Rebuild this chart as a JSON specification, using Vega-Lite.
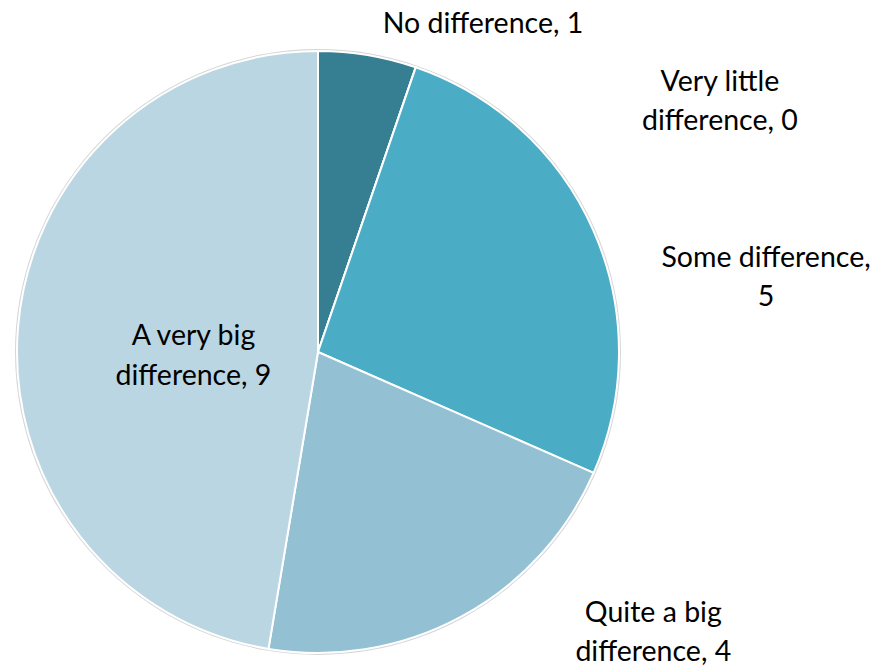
{
  "$schema": "https://vega.github.io/schema/vega-lite/v6.json",
  "width": 636,
  "height": 630,
  "autosize": {"type": "none"},
  "padding": {"left": 0, "top": 37, "right": 246, "bottom": 0},
  "background": "white",
  "data": {
    "values": [
      {"category": "No difference", "value": 1, "order": 1, "label": "No difference, 1"},
      {"category": "Very little difference", "value": 0, "order": 2, "label": "Very little\ndifference, 0"},
      {"category": "Some difference", "value": 5, "order": 3, "label": "Some difference,\n5"},
      {"category": "Quite a big difference", "value": 4, "order": 4, "label": "Quite a big\ndifference, 4"},
      {"category": "A very big difference", "value": 9, "order": 5, "label": "A very big\ndifference, 9"}
    ]
  },
  "encoding": {
    "theta": {"field": "value", "type": "quantitative", "stack": true},
    "order": {"field": "order", "type": "quantitative"}
  },
  "layer": [
    {"mark": {"type": "arc", "outerRadius": 303, "color": "#d6d6d6"}},
    {
      "mark": {"type": "arc", "outerRadius": 301, "stroke": "white", "strokeWidth": 2},
      "encoding": {
        "color": {
          "field": "category", "type": "nominal", "legend": null,
          "scale": {
            "domain": ["No difference", "Very little difference", "Some difference", "Quite a big difference", "A very big difference"],
            "range": ["#367F93", "#2F6F80", "#4BACC6", "#93C1D3", "#BAD6E2"]
          }
        }
      }
    },
    {
      "mark": {"type": "text", "radius": 320, "dx": 12, "dy": -3, "align": "left", "baseline": "alphabetic", "font": "Lato", "fontSize": 28.5, "color": "black", "lineBreak": "\n", "lineHeight": 39},
      "encoding": {"text": {"condition": {"test": "datum.category === 'No difference'", "field": "label"}, "value": ""}}
    },
    {
      "mark": {"type": "text", "radius": 320, "dx": 298, "dy": 42, "align": "center", "baseline": "alphabetic", "font": "Lato", "fontSize": 28.5, "color": "black", "lineBreak": "\n", "lineHeight": 39},
      "encoding": {"text": {"condition": {"test": "datum.category === 'Very little difference'", "field": "label"}, "value": ""}}
    },
    {
      "mark": {"type": "text", "radius": 320, "dx": 155, "dy": 44, "align": "center", "baseline": "alphabetic", "font": "Lato", "fontSize": 28.5, "color": "black", "lineBreak": "\n", "lineHeight": 39},
      "encoding": {"text": {"condition": {"test": "datum.category === 'Some difference'", "field": "label"}, "value": ""}}
    },
    {
      "mark": {"type": "text", "radius": 320, "dx": 183, "dy": -11, "align": "center", "baseline": "alphabetic", "font": "Lato", "fontSize": 28.5, "color": "black", "lineBreak": "\n", "lineHeight": 39},
      "encoding": {"text": {"condition": {"test": "datum.category === 'Quite a big difference'", "field": "label"}, "value": ""}}
    },
    {
      "mark": {"type": "text", "radius": 125, "dx": 0, "dy": 3, "align": "center", "baseline": "alphabetic", "font": "Lato", "fontSize": 28.5, "color": "black", "lineBreak": "\n", "lineHeight": 40},
      "encoding": {"text": {"condition": {"test": "datum.category === 'A very big difference'", "field": "label"}, "value": ""}}
    }
  ],
  "config": {"view": {"stroke": null}}
}
